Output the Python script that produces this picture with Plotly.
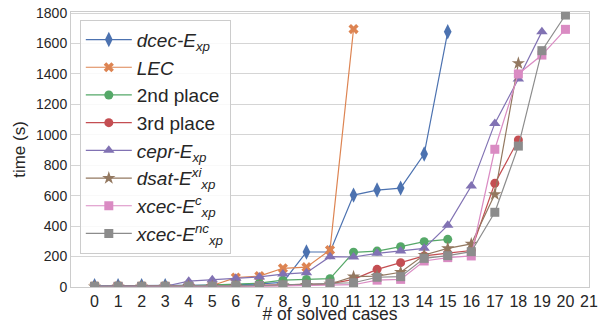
import plotly.graph_objects as go

names = ["<i>dcec-E<sub>xp</sub></i>", "<i>LEC</i>", "2nd place", "3rd place",
         "<i>cepr-E<sub>xp</sub></i>", "<i>dsat-E<sup>xi</sup><sub>xp</sub></i>",
         "<i>xcec-E<sup>c</sup><sub>xp</sub></i>", "<i>xcec-E<sup>nc</sup><sub>xp</sub></i>"]

dcec = [8, 8, 8, 8, 10, 12, 15, 20, 30, 230, 230, 604, 637, 650, 874, 1677]
lec = [5, 5, 5, 5, 8, 10, 62, 72, 123, 130, 243, 1695]
second = [3, 3, 3, 3, 8, 12, 18, 25, 45, 50, 55, 228, 236, 265, 298, 313]
third = [3, 3, 3, 3, 5, 5, 8, 10, 12, 15, 20, 50, 116, 160, 204, 222, 240, 681, 966]
cepr = [5, 5, 5, 5, 38, 48, 58, 66, 85, 94, 199, 197, 221, 236, 254, 405, 663, 1075, 1367, 1678]
dsat = [3, 3, 3, 3, 5, 5, 6, 8, 10, 12, 20, 68, 72, 97, 210, 254, 283, 609, 1470]
xcec_c = [3, 3, 3, 3, 4, 4, 5, 6, 8, 10, 12, 15, 45, 50, 171, 193, 204, 905, 1400, 1524, 1693]
xcec_nc = [5, 5, 5, 5, 6, 6, 8, 10, 15, 18, 24, 28, 64, 68, 188, 206, 232, 491, 926, 1553, 1787]

series = [dcec, lec, second, third, cepr, dsat, xcec_c, xcec_nc]
colors = ["#4C72B0", "#DD8452", "#55A868", "#C44E52", "#8172B3", "#937860", "#DA8BC3", "#8C8C8C"]
symbols = ["diamond-tall", "x", "circle", "circle", "triangle-up", "star", "square", "square"]
sizes = [11, 9, 9, 9, 10, 10, 9, 9]

x_ticks = list(range(0, 22))
y_ticks = list(range(0, 1801, 200))

fig = go.Figure()
for name, vals, c, s, sz in zip(names, series, colors, symbols, sizes):
    fig.add_trace(go.Scatter(
        x=list(range(len(vals))), y=vals, mode="lines+markers", name=name,
        line=dict(color=c, width=1.2),
        marker=dict(color=c, symbol=s, size=sz, line=dict(width=0)),
    ))

fig.update_layout(
    template="none",
    width=611, height=324,
    margin=dict(l=71, r=22, t=12, b=37, pad=0),
    paper_bgcolor="white", plot_bgcolor="white",
    font=dict(family="Liberation Sans, Arial, sans-serif", color="#262626", size=15),
    showlegend=True,
    legend=dict(x=0.017, y=0.972, xanchor="left", yanchor="top",
                bgcolor="rgba(255,255,255,0.85)", bordercolor="#cccccc", borderwidth=1,
                font=dict(size=19, color="#262626"), tracegroupgap=0, itemwidth=46),
    xaxis=dict(range=[-1, 21], tickmode="array", tickvals=x_ticks,
               ticktext=[str(t) for t in x_ticks], automargin=False,
               showgrid=False, zeroline=False, showline=True, mirror=True,
               linecolor="#cccccc", linewidth=1, ticks="", tickfont=dict(size=16),
               title=dict(text="# of solved cases", font=dict(size=17.5), standoff=4)),
    yaxis=dict(range=[0, 1807], tickmode="array", tickvals=y_ticks,
               ticktext=[str(t) for t in y_ticks], automargin=False,
               showgrid=True, gridcolor="#d5d5d5", gridwidth=1.2, zeroline=False,
               showline=True, mirror=True, linecolor="#cccccc", linewidth=1, ticks="",
               tickfont=dict(size=14),
               title=dict(text="time (s)", font=dict(size=17), standoff=6)),
)

fig.write_html("out.html", config={"displayModeBar": False},
               post_script="document.body.style.margin='0';")
